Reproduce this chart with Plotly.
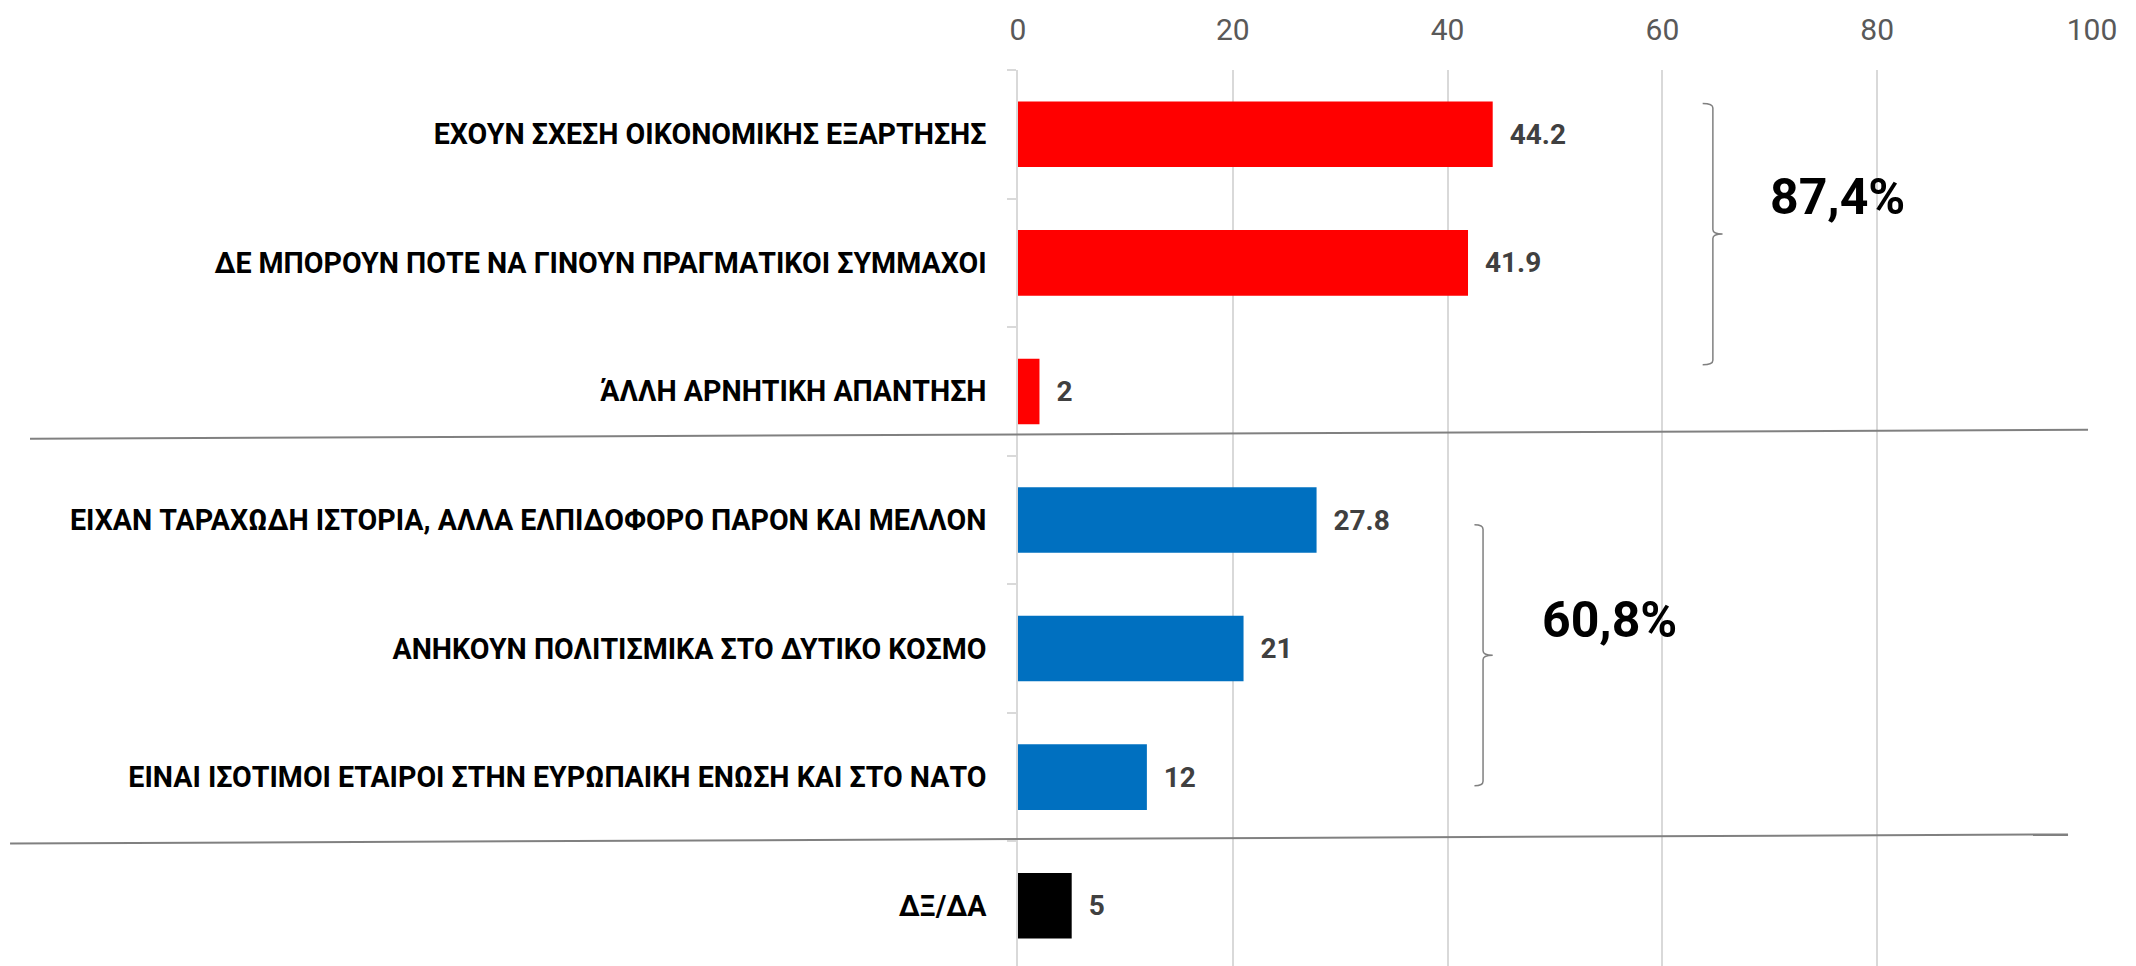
import plotly.graph_objects as go

categories = [
    "ΕΧΟΥΝ ΣΧΕΣΗ ΟΙΚΟΝΟΜΙΚΗΣ ΕΞΑΡΤΗΣΗΣ",
    "ΔΕ ΜΠΟΡΟΥΝ ΠΟΤΕ ΝΑ ΓΙΝΟΥΝ ΠΡΑΓΜΑΤΙΚΟΙ ΣΥΜΜΑΧΟΙ",
    "ΆΛΛΗ ΑΡΝΗΤΙΚΗ ΑΠΑΝΤΗΣΗ",
    "ΕΙΧΑΝ ΤΑΡΑΧΩΔΗ ΙΣΤΟΡΙΑ, ΑΛΛΑ ΕΛΠΙΔΟΦΟΡΟ ΠΑΡΟΝ ΚΑΙ ΜΕΛΛΟΝ",
    "ΑΝΗΚΟΥΝ ΠΟΛΙΤΙΣΜΙΚΑ ΣΤΟ ΔΥΤΙΚΟ ΚΟΣΜΟ",
    "ΕΙΝΑΙ ΙΣΟΤΙΜΟΙ ΕΤΑΙΡΟΙ ΣΤΗΝ ΕΥΡΩΠΑΙΚΗ ΕΝΩΣΗ ΚΑΙ ΣΤΟ ΝΑΤΟ",
    "ΔΞ/ΔΑ",
]
values = [44.2, 41.9, 2, 27.8, 21, 12, 5]
bar_colors = ["#FF0000", "#FF0000", "#FF0000", "#0070C0", "#0070C0", "#0070C0", "#000000"]
x_ticks = [0, 20, 40, 60, 80, 100]

group_totals = ["87,4%", "60,8%"]

FONT = "Roboto"
Y_RANGE = [6.5, -0.5]


def ypaper(i):
    return (Y_RANGE[0] - i) / (Y_RANGE[0] - Y_RANGE[1])


def brace_path(x_left, x_line, x_tip, i_top, i_bot):
    yt, yb = ypaper(i_top), ypaper(i_bot)
    ym = (yt + yb) / 2
    xl, xv, xt = x_left / 100, x_line / 100, x_tip / 100
    d = 0.005
    return (f"M {xl},{yt} Q {xv},{yt} {xv},{yt-d} L {xv},{ym+d} "
            f"Q {xv},{ym} {xt},{ym} Q {xv},{ym} {xv},{ym-d} "
            f"L {xv},{yb+d} Q {xv},{yb} {xl},{yb}")


fig = go.Figure(
    go.Bar(
        x=values,
        y=categories,
        orientation="h",
        marker=dict(color=bar_colors, line=dict(width=0)),
        width=0.51,
        texttemplate="\u00a0\u00a0%{x}",
        textposition="outside",
        textfont=dict(family=FONT, size=28, color="#404040", weight="bold"),
        cliponaxis=False,
        hoverinfo="skip",
    )
)

fig.update_layout(
    width=2136,
    height=966,
    margin=dict(l=1010, r=52, t=59, b=4),
    paper_bgcolor="white",
    plot_bgcolor="white",
    showlegend=False,
    xaxis=dict(
        side="top",
        range=[0, 100],
        tickvals=x_ticks,
        showgrid=True,
        gridcolor="#D9D9D9",
        gridwidth=1.5,
        zeroline=False,
        showline=False,
        ticks="",
        tickfont=dict(family=FONT, size=30, color="#595959"),
        ticklabelstandoff=23,
    ),
    yaxis=dict(
        type="category",
        categoryorder="array",
        categoryarray=categories,
        range=Y_RANGE,
        tickson="boundaries",
        ticks="outside",
        ticklen=9,
        tickcolor="#D9D9D9",
        tickwidth=1.5,
        showline=True,
        linecolor="#D9D9D9",
        linewidth=1.5,
        showgrid=False,
        tickfont=dict(family=FONT, size=28.6, color="#000000", weight="bold"),
        ticklabelstandoff=24,
    ),
)

shapes = [
    dict(type="line", xref="paper", yref="paper",
         x0=-0.9199, y0=0.5903, x1=0.9963, y1=0.6002,
         line=dict(color="#808080", width=2)),
    dict(type="line", xref="paper", yref="paper",
         x0=-0.9385, y0=0.1406, x1=0.9777, y1=0.1506,
         line=dict(color="#808080", width=2)),
    dict(type="path", xref="paper", yref="paper",
         path=brace_path(63.75, 64.7, 65.6, -0.239, 1.792),
         line=dict(color="#808080", width=1.5)),
    dict(type="path", xref="paper", yref="paper",
         path=brace_path(42.5, 43.3, 44.2, 3.037, 5.066),
         line=dict(color="#808080", width=1.5)),
]
fig.update_layout(shapes=shapes)

fig.add_annotation(x=0.7635, y=ypaper(0.49), xref="paper", yref="paper",
                   xanchor="center", yanchor="middle",
                   text=group_totals[0], showarrow=False,
                   font=dict(family=FONT, size=50, color="#000000", weight="bold"))
fig.add_annotation(x=0.551, y=ypaper(3.777), xref="paper", yref="paper",
                   xanchor="center", yanchor="middle",
                   text=group_totals[1], showarrow=False,
                   font=dict(family=FONT, size=50, color="#000000", weight="bold"))

fig.write_html("out.html")
